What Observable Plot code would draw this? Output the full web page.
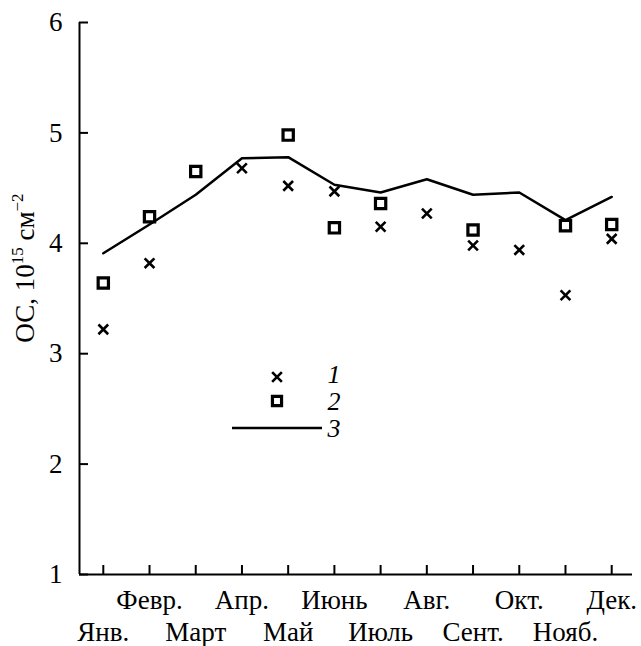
<!DOCTYPE html>
<html>
<head>
<meta charset="utf-8">
<script src="https://cdn.jsdelivr.net/npm/d3@7"></script>
<script src="https://cdn.jsdelivr.net/npm/@observablehq/plot@0.6"></script>
<style>
  html, body { margin: 0; padding: 0; background: #fff; }
  #chart { width: 641px; height: 646px; }
</style>
</head>
<body>
<div id="chart"></div>
<script>
// Data
const months = [1, 2, 3, 4, 5, 6, 7, 8, 9, 10, 11, 12];
const monthNames = ["Янв.", "Февр.", "Март", "Апр.", "Май", "Июнь", "Июль", "Авг.", "Сент.", "Окт.", "Нояб.", "Дек."];
const series1 = [3.22, 3.82, null, 4.68, 4.52, 4.47, 4.15, 4.27, 3.98, 3.94, 3.53, 4.04];
const series2 = [3.64, 4.24, 4.65, null, 4.98, 4.14, 4.36, null, 4.12, null, 4.16, 4.17];
const series3 = [3.91, 4.17, 4.44, 4.77, 4.78, 4.53, 4.46, 4.58, 4.44, 4.46, 4.21, 4.42];
const yTicks = [1, 2, 3, 4, 5, 6];
const legendLabels = ["1", "2", "3"];

const d1 = months.map((m, i) => ({m, v: series1[i]})).filter(d => d.v != null);
const d2 = months.map((m, i) => ({m, v: series2[i]})).filter(d => d.v != null);
const d3s = months.map((m, i) => ({m, v: series3[i]}));

const W = 641, H = 646;
const mL = 79, mR = 9, mT = 22, mB = 72;
const frameW = W - mL - mR, frameH = H - mT - mB;
const xDomain = [0.485, 12.45];
const font = "Liberation Serif, Times New Roman, serif";
const FS = 27;

const plot = Plot.plot({
  width: W, height: H,
  marginLeft: mL, marginRight: mR, marginTop: mT, marginBottom: mB,
  style: {fontFamily: font, fontSize: FS + "px", color: "#000", background: "#fff"},
  x: {domain: xDomain, axis: null},
  y: {domain: [1, 6], axis: null},
  marks: [
    Plot.axisY(yTicks, {tickSize: 0, tickPadding: 17, label: null, fontSize: FS, tickFormat: d => String(d)}),
    Plot.axisX(months.filter(m => m % 2 === 0), {tickSize: 0, tickPadding: 15, label: null, fontSize: FS, tickFormat: m => monthNames[m - 1]}),
    Plot.axisX(months.filter(m => m % 2 === 1), {tickSize: 0, tickPadding: 47, label: null, fontSize: FS, tickFormat: m => monthNames[m - 1]}),
    Plot.tickY(yTicks, {y: d => d, insetRight: frameW - 9, stroke: "#000", strokeWidth: 2}),
    Plot.tickX(months, {x: d => d, insetTop: frameH - 9, stroke: "#000", strokeWidth: 2}),
    Plot.ruleX([xDomain[0]], {stroke: "#000", strokeWidth: 2}),
    Plot.ruleY([1], {stroke: "#000", strokeWidth: 2}),
    Plot.line(d3s, {x: "m", y: "v", stroke: "#000", strokeWidth: 2.5}),
    Plot.dot(d2, {x: "m", y: "v", symbol: "square", r: 5.8, stroke: "#000", strokeWidth: 3.2, fill: "#fff"}),
    Plot.dot(d1, {x: "m", y: "v", symbol: "times", r: 4.5, stroke: "#000", strokeWidth: 2.6})
  ]
});

document.getElementById("chart").appendChild(plot);

const svg = d3.select(plot);

// Y axis title with superscripts
const yl = svg.append("text")
  .attr("transform", "translate(34,268) rotate(-90)")
  .attr("text-anchor", "middle")
  .attr("font-family", font)
  .attr("font-size", FS)
  .attr("fill", "#000");
yl.append("tspan").text("ОС, 10");
yl.append("tspan").attr("font-size", 17).attr("dy", -11).text("15");
yl.append("tspan").attr("dy", 11).text(" см");
yl.append("tspan").attr("font-size", 17).attr("dy", -11).text("−2");

// Legend
const lg = svg.append("g");
lg.append("path")
  .attr("d", d3.symbol(d3.symbolTimes, Math.PI * 4.5 * 4.5)())
  .attr("transform", "translate(277,377)")
  .attr("fill", "none").attr("stroke", "#000").attr("stroke-width", 2.6);
lg.append("path")
  .attr("d", d3.symbol(d3.symbolSquare2, Math.PI * 5.8 * 5.8)())
  .attr("transform", "translate(277,401)")
  .attr("fill", "#fff").attr("stroke", "#000").attr("stroke-width", 3.2);
lg.append("line")
  .attr("x1", 232).attr("x2", 322).attr("y1", 428).attr("y2", 428)
  .attr("stroke", "#000").attr("stroke-width", 2.5);
lg.selectAll("text.lab").data(legendLabels).join("text")
  .attr("class", "lab")
  .attr("x", 334)
  .attr("y", (d, i) => 374 + i * 27)
  .attr("dy", "0.35em")
  .attr("font-family", font)
  .attr("font-style", "italic")
  .attr("font-size", 26)
  .attr("fill", "#000")
  .text(d => d);
</script>
</body>
</html>
